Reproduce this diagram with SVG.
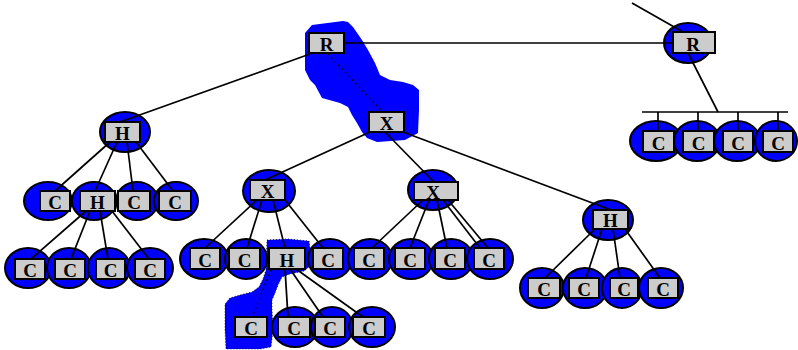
<svg xmlns="http://www.w3.org/2000/svg" width="798" height="350" viewBox="0 0 798 350">
<style>
.e{fill:#0000ff;stroke:#000;stroke-width:2}
.b{fill:#cccccc;stroke:#000;stroke-width:2}
.t{font-family:"Liberation Serif","Times New Roman",serif;font-weight:bold;font-size:19px;text-anchor:middle;fill:#000}
.blob{fill:#0000ff}
.c line{stroke:#000;stroke-width:1.7}
.c .dot{stroke-dasharray:1.5 3.5;stroke-width:1.5}
</style>
<rect width="798" height="350" fill="#fff"/>
<g id="blobs">
<path class="blob" d="M312,25 L343,21 L348,22 L353,27 L362,40 L368,50 L375,63 L380,75 L390,80 L403,82 L413,85 L419,90 L419,110 L418,133 L405,140 L377,142 L367,138 L362,132 L357,123 L352,115 L348,107 L340,103 L322,98 L315,85 L310,80 L305,70 L305,33 Z"/>
<path class="blob" d="M267,240 L288,239 L309,241 L311,255 L310,266 L304,271 L290,274 L282,277 L278,285 L275,293 L272,300 L272,310 L273,330 L271,347 L260,349 L240,349 L226,349 L225,330 L225,304 L230,298 L240,295 L252,292 L259,287 L263,279 L266,270 Z" stroke="#000" stroke-width="0.8" stroke-dasharray="1 2"/>
</g>
<g id="nR1"><rect class="b" x="309" y="33" width="35" height="20"/><text class="t" x="326.5" y="51">R</text></g>
<g id="nR2"><ellipse class="e" cx="688" cy="43" rx="24" ry="20"/><rect class="b" x="673" y="32" width="42" height="21"/><text class="t" x="693" y="51">R</text></g>
<g id="nR2c1"><ellipse class="e" cx="656" cy="141" rx="26" ry="20"/><rect class="b" x="643" y="131" width="31" height="21"/><text class="t" x="658.5" y="150">C</text></g>
<g id="nR2c2"><ellipse class="e" cx="697" cy="141" rx="23" ry="20"/><rect class="b" x="683" y="131" width="31" height="21"/><text class="t" x="698.5" y="150">C</text></g>
<g id="nR2c3"><ellipse class="e" cx="737" cy="141" rx="23" ry="20"/><rect class="b" x="723" y="131" width="30" height="21"/><text class="t" x="738" y="150">C</text></g>
<g id="nR2c4"><ellipse class="e" cx="776" cy="141" rx="21" ry="20"/><rect class="b" x="763" y="131" width="30" height="21"/><text class="t" x="778" y="150">C</text></g>
<g id="nH1"><ellipse class="e" cx="125" cy="132" rx="25" ry="20"/><rect class="b" x="105" y="122" width="35" height="20"/><text class="t" x="122.5" y="140">H</text></g>
<g id="nL2c1"><ellipse class="e" cx="48" cy="201" rx="24" ry="19"/><rect class="b" x="40" y="191" width="30" height="20"/><text class="t" x="55" y="209">C</text></g>
<g id="nH2"><ellipse class="e" cx="94" cy="201" rx="22" ry="19"/><rect class="b" x="80" y="191" width="35" height="20"/><text class="t" x="97.5" y="209">H</text></g>
<g id="nL2c3"><ellipse class="e" cx="137" cy="201" rx="21" ry="19"/><rect class="b" x="118" y="191" width="32" height="20"/><text class="t" x="134" y="209">C</text></g>
<g id="nL2c4"><ellipse class="e" cx="176" cy="201" rx="22" ry="19"/><rect class="b" x="159" y="191" width="32" height="20"/><text class="t" x="175" y="209">C</text></g>
<g id="nL3c1"><ellipse class="e" cx="28" cy="268" rx="23" ry="20"/><rect class="b" x="15" y="259" width="30" height="20"/><text class="t" x="30" y="277">C</text></g>
<g id="nL3c2"><ellipse class="e" cx="69" cy="268" rx="22" ry="20"/><rect class="b" x="55" y="259" width="30" height="20"/><text class="t" x="70" y="277">C</text></g>
<g id="nL3c3"><ellipse class="e" cx="109" cy="268" rx="21" ry="20"/><rect class="b" x="96" y="259" width="29" height="20"/><text class="t" x="110.5" y="277">C</text></g>
<g id="nL3c4"><ellipse class="e" cx="150" cy="268" rx="23" ry="20"/><rect class="b" x="135" y="259" width="30" height="20"/><text class="t" x="150" y="277">C</text></g>
<g id="nX1"><rect class="b" x="369" y="112" width="35" height="20"/><text class="t" x="386.5" y="130">X</text></g>
<g id="nX2"><ellipse class="e" cx="269" cy="191" rx="26" ry="21"/><rect class="b" x="250" y="180" width="35" height="20"/><text class="t" x="267.5" y="198">X</text></g>
<g id="nX3"><ellipse class="e" cx="433" cy="190" rx="25" ry="20"/><rect class="b" x="414" y="182" width="44" height="18"/><text class="t" x="433" y="199">X</text></g>
<g id="nM2c1"><ellipse class="e" cx="204" cy="259" rx="24" ry="20"/><rect class="b" x="190" y="248" width="30" height="21"/><text class="t" x="205" y="267">C</text></g>
<g id="nM2c2"><ellipse class="e" cx="246" cy="259" rx="21" ry="20"/><rect class="b" x="229" y="248" width="31" height="21"/><text class="t" x="244.5" y="267">C</text></g>
<g id="nH3"><rect class="b" x="269" y="248" width="36" height="21"/><text class="t" x="287" y="267">H</text></g>
<g id="nM2c4"><ellipse class="e" cx="330" cy="259" rx="22" ry="20"/><rect class="b" x="313" y="248" width="30" height="21"/><text class="t" x="328" y="267">C</text></g>
<g id="nM2c5"><ellipse class="e" cx="370" cy="259" rx="22" ry="20"/><rect class="b" x="354" y="248" width="30" height="21"/><text class="t" x="369" y="267">C</text></g>
<g id="nM2c6"><ellipse class="e" cx="411" cy="259" rx="22" ry="20"/><rect class="b" x="395" y="248" width="30" height="21"/><text class="t" x="410" y="267">C</text></g>
<g id="nM2c7"><ellipse class="e" cx="451" cy="259" rx="22" ry="20"/><rect class="b" x="435" y="248" width="30" height="21"/><text class="t" x="450" y="267">C</text></g>
<g id="nM2c8"><ellipse class="e" cx="490" cy="259" rx="23" ry="20"/><rect class="b" x="474" y="248" width="30" height="21"/><text class="t" x="489" y="267">C</text></g>
<g id="nB1"><rect class="b" x="235" y="317" width="32" height="20"/><text class="t" x="251" y="335">C</text></g>
<g id="nB2"><ellipse class="e" cx="295" cy="327" rx="23" ry="20"/><rect class="b" x="278" y="317" width="32" height="20"/><text class="t" x="294" y="335">C</text></g>
<g id="nB3"><ellipse class="e" cx="332" cy="327" rx="21" ry="20"/><rect class="b" x="315" y="317" width="30" height="20"/><text class="t" x="330" y="335">C</text></g>
<g id="nB4"><ellipse class="e" cx="372" cy="327" rx="23" ry="20"/><rect class="b" x="353" y="317" width="32" height="20"/><text class="t" x="369" y="335">C</text></g>
<g id="nH4"><ellipse class="e" cx="608" cy="220" rx="25" ry="20"/><rect class="b" x="593" y="210" width="35" height="19"/><text class="t" x="610.5" y="227">H</text></g>
<g id="nRc1"><ellipse class="e" cx="542" cy="288" rx="22" ry="20"/><rect class="b" x="528" y="278" width="32" height="20"/><text class="t" x="544" y="296">C</text></g>
<g id="nRc2"><ellipse class="e" cx="585" cy="288" rx="22" ry="20"/><rect class="b" x="569" y="278" width="30" height="20"/><text class="t" x="584" y="296">C</text></g>
<g id="nRc3"><ellipse class="e" cx="622" cy="288" rx="20" ry="20"/><rect class="b" x="610" y="278" width="28" height="20"/><text class="t" x="624" y="296">C</text></g>
<g id="nRc4"><ellipse class="e" cx="661" cy="288" rx="22" ry="20"/><rect class="b" x="648" y="278" width="30" height="20"/><text class="t" x="663" y="296">C</text></g>
<g class="c" id="connectors">
<line x1="344" y1="43" x2="673" y2="43"/>
<line x1="632" y1="3" x2="683" y2="32"/>
<line x1="688" y1="53" x2="718" y2="112"/>
<line x1="642" y1="112" x2="788" y2="112"/>
<line x1="658" y1="112" x2="658" y2="131"/>
<line x1="698" y1="112" x2="698" y2="131"/>
<line x1="738" y1="112" x2="738" y2="131"/>
<line x1="778" y1="112" x2="778" y2="131"/>
<line x1="310" y1="54" x2="120" y2="122"/>
<line class="dot" x1="328" y1="54" x2="383" y2="112"/>
<line x1="110" y1="142" x2="55" y2="191"/>
<line x1="117" y1="142" x2="95" y2="191"/>
<line x1="127" y1="142" x2="133" y2="191"/>
<line x1="136" y1="142" x2="173" y2="191"/>
<line x1="86" y1="211" x2="31" y2="259"/>
<line x1="90" y1="211" x2="71" y2="259"/>
<line x1="100" y1="211" x2="108" y2="259"/>
<line x1="112" y1="211" x2="149" y2="259"/>
<line x1="370" y1="132" x2="265" y2="180"/>
<line x1="385" y1="132" x2="434" y2="182"/>
<line x1="403" y1="132" x2="611" y2="210"/>
<line x1="257" y1="200" x2="205" y2="248"/>
<line x1="262" y1="200" x2="247" y2="248"/>
<line x1="273" y1="200" x2="285" y2="248"/>
<line x1="285" y1="200" x2="323" y2="248"/>
<line x1="423" y1="200" x2="372" y2="248"/>
<line x1="429" y1="200" x2="410" y2="248"/>
<line x1="437" y1="200" x2="447" y2="248"/>
<line x1="443" y1="200" x2="480" y2="248"/>
<line x1="448" y1="200" x2="488" y2="248"/>
<line x1="285" y1="269" x2="288" y2="317"/>
<line x1="290" y1="269" x2="323" y2="317"/>
<line x1="296" y1="269" x2="363" y2="317"/>
<line class="dot" x1="271" y1="270" x2="252" y2="317"/>
<line x1="595" y1="229" x2="545" y2="278"/>
<line x1="602" y1="229" x2="586" y2="278"/>
<line x1="613" y1="229" x2="620" y2="278"/>
<line x1="625" y1="229" x2="660" y2="278"/>
</g>
</svg>
